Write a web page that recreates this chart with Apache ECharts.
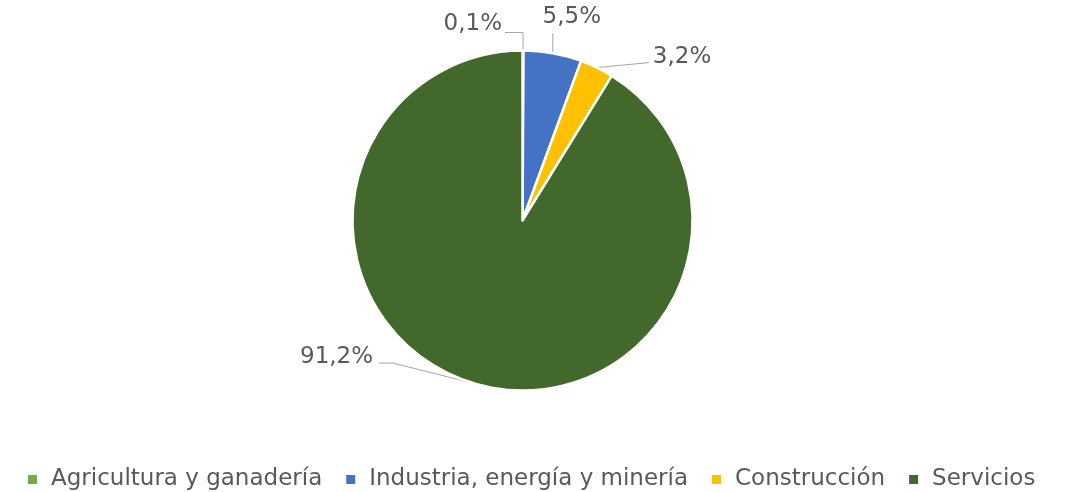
<!DOCTYPE html>
<html>
<head>
<meta charset="utf-8">
<script src="https://cdn.jsdelivr.net/npm/echarts@6/dist/echarts.min.js"></script>
<style>
html,body{margin:0;padding:0;background:#fff;}
#chart{width:1066px;height:492px;}
</style>
</head>
<body>
<div id="chart"></div>
<script>
const categories = ['Agricultura y ganadería', 'Industria, energía y minería', 'Construcción', 'Servicios'];
const values = [0.1, 5.5, 3.2, 91.2];
const colors = ['#70AD47', '#4472C4', '#FFC000', '#43682B'];

const CX = 522.5, CY = 220.5, R = 170;
const total = values.reduce((a, b) => a + b, 0);

function edgePoint(i) {
  let before = 0;
  for (let k = 0; k < i; k++) before += values[k];
  const mid = before + values[i] / 2;
  const ang = (90 - mid / total * 360) * Math.PI / 180;
  return [CX + R * Math.cos(ang), CY - R * Math.sin(ang)];
}

// label placement relative to the slice edge point (style, not data)
const labelPlace = [
  { line: [[0, -18], [-18, -18]], lx: -21, ly: -26, align: 'right' },
  { line: [[0, -20]], lx: 19, ly: -36, align: 'center' },
  { line: [[52, -5]], lx: 56, ly: -11, align: 'left' },
  { line: [[-83, -21], [-97, -21]], lx: -103, ly: -27, align: 'right' }
];

const chart = echarts.init(document.getElementById('chart'), null, { renderer: 'canvas' });

const data = categories.map((c, i) => ({ name: c, value: values[i], itemStyle: { color: colors[i] } }));

chart.setOption({
  backgroundColor: '#ffffff',
  animation: false,
  legend: {
    data: categories,
    top: 463,
    left: 23,
    icon: 'rect',
    itemWidth: 9,
    itemHeight: 9,
    itemGap: 24,
    itemStyle: { borderColor: 'transparent', borderWidth: 0 },
    textStyle: {
      fontFamily: 'DejaVu Sans',
      fontSize: 23,
      color: '#595959',
      padding: [0, 0, 0, 9]
    }
  },
  series: [{
    type: 'pie',
    center: [CX, CY],
    radius: R,
    startAngle: 90,
    clockwise: true,
    avoidLabelOverlap: false,
    data: data,
    itemStyle: { borderColor: '#ffffff', borderWidth: 2.5 },
    emphasis: { disabled: true },
    label: {
      show: true,
      position: 'outside',
      fontFamily: 'DejaVu Sans',
      fontSize: 23,
      color: '#595959',
      formatter: p => values[p.dataIndex].toFixed(1).replace('.', ',') + '%'
    },
    labelLine: {
      show: true,
      length: 10,
      length2: 10,
      lineStyle: { color: '#a6a6a6', width: 1 }
    },
    labelLayout: function (params) {
      const i = params.dataIndex;
      const p0 = edgePoint(i);
      const cfg = labelPlace[i];
      const pts = [p0].concat(cfg.line.map(d => [p0[0] + d[0], p0[1] + d[1]]));
      while (pts.length < 3) pts.push(pts[pts.length - 1].slice());
      return {
        x: p0[0] + cfg.lx,
        y: p0[1] + cfg.ly,
        align: cfg.align,
        verticalAlign: 'middle',
        labelLinePoints: pts
      };
    }
  }]
});
</script>
</body>
</html>
